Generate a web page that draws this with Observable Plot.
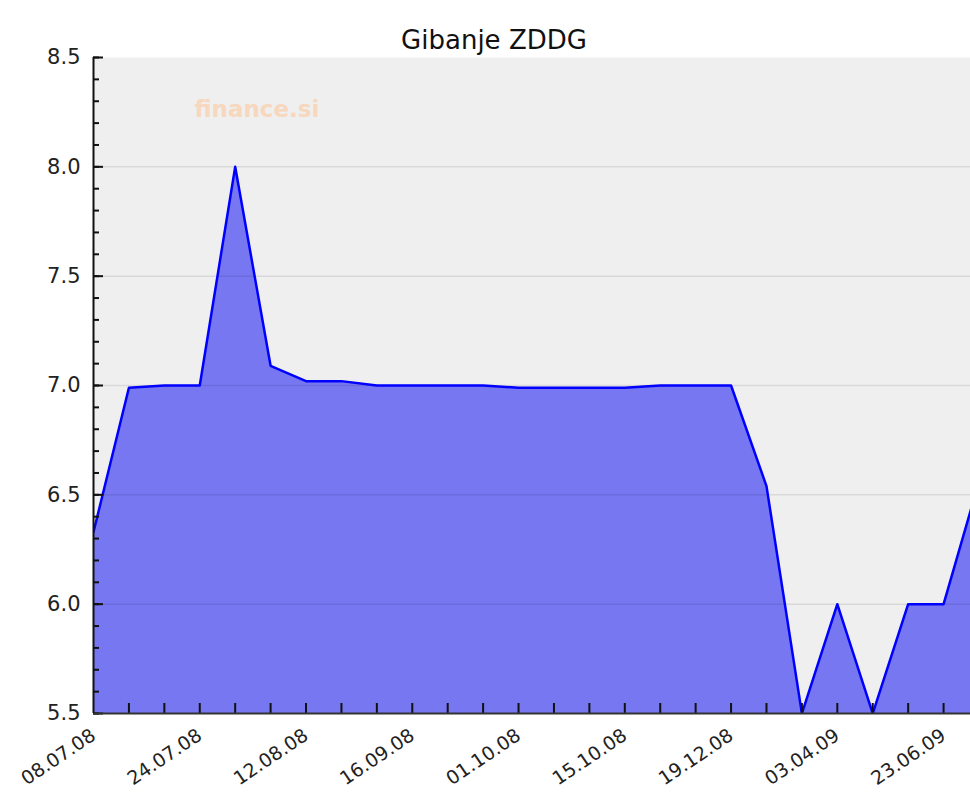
<!DOCTYPE html>
<html>
<head>
<meta charset="utf-8">
<script src="https://cdn.jsdelivr.net/npm/d3@7"></script>
<script src="https://cdn.jsdelivr.net/npm/@observablehq/plot@0.6"></script>
<style>
  html, body { margin: 0; padding: 0; background: #fff; }
  #chart svg { display: block; }
</style>
</head>
<body>
<div id="chart"></div>
<script>
const title = "Gibanje ZDDG";
const watermark = "finance.si";
// one value per observation (index along the x axis)
const values = [6.33, 6.99, 7.0, 7.0, 8.0, 7.09, 7.02, 7.02, 7.0, 7.0, 7.0, 7.0, 6.99, 6.99, 6.99, 6.99, 7.0, 7.0, 7.0, 6.54, 5.5, 6.0, 5.5, 6.0, 6.0, 6.56];
// date labels shown every third observation
const tickLabels = ["08.07.08", "24.07.08", "12.08.08", "16.09.08", "01.10.08", "15.10.08", "19.12.08", "03.04.09", "23.06.09"];
const labelStep = 3;
const yMajor = [5.5, 6.0, 6.5, 7.0, 7.5, 8.0, 8.5];
const yMinor = d3.range(55, 86).map(v => v / 10);

const data = values.map((v, i) => ({i, v}));
const labelTicks = tickLabels.map((_, k) => k * labelStep);
const allTicks = d3.range(1, 25);

const font = "DejaVu Sans, Verdana, sans-serif";

const chart = Plot.plot({
  width: 970,
  height: 794,
  marginTop: 57,
  marginLeft: 93,
  marginRight: 0,
  marginBottom: 81,
  style: {fontFamily: font, background: "#fff", overflow: "visible"},
  x: {domain: [0, 24.76], axis: null},
  y: {domain: [5.5, 8.5], axis: null},
  marks: [
    Plot.frame({fill: "#efefef", stroke: null}),
    Plot.areaY(data, {x: "i", y1: 5.5, y2: "v", fill: "#7777f2", clip: true}),
    Plot.ruleY(yMajor.slice(1, -1), {stroke: "#000", strokeOpacity: 0.09, strokeWidth: 1.5}),
    Plot.lineY(data, {x: "i", y: "v", stroke: "#0000ff", strokeWidth: 2.5, clip: true}),
    Plot.text([watermark], {frameAnchor: "top-left", dx: 101, dy: 43, textAnchor: "start", fill: "#f7d7bd", fontSize: 23, fontWeight: "bold", fontFamily: font}),
    Plot.text([title], {frameAnchor: "top", dx: -38, dy: -27, fontSize: 26, fill: "#111", fontFamily: font}),
    // y axis: inward ticks
    Plot.axisY(yMinor, {tickSize: 6, dx: 6, stroke: "#111", strokeWidth: 2, text: null, label: null}),
    Plot.axisY(yMajor, {tickSize: 10, dx: 10, stroke: "#111", strokeWidth: 2, text: null, label: null}),
    Plot.axisY(yMajor, {tickSize: 0, tickPadding: 13, tickFormat: d => d.toFixed(1), fontSize: 21, fill: "#222", fontFamily: font, label: null}),
    // x axis: inward ticks and rotated labels
    Plot.axisX(allTicks, {tickSize: 10, dy: -10, stroke: "#111", strokeWidth: 2, text: null, label: null}),
    Plot.axisX(labelTicks, {tickSize: 0, tickPadding: 20, tickRotate: -34, tickFormat: d => tickLabels[d / labelStep], fontSize: 19, fill: "#222", fontFamily: font, label: null}),
    Plot.ruleY([5.5], {stroke: "#333", strokeWidth: 2}),
    Plot.ruleX([0], {stroke: "#111", strokeWidth: 2})
  ]
});
document.getElementById("chart").appendChild(chart);
</script>
</body>
</html>
